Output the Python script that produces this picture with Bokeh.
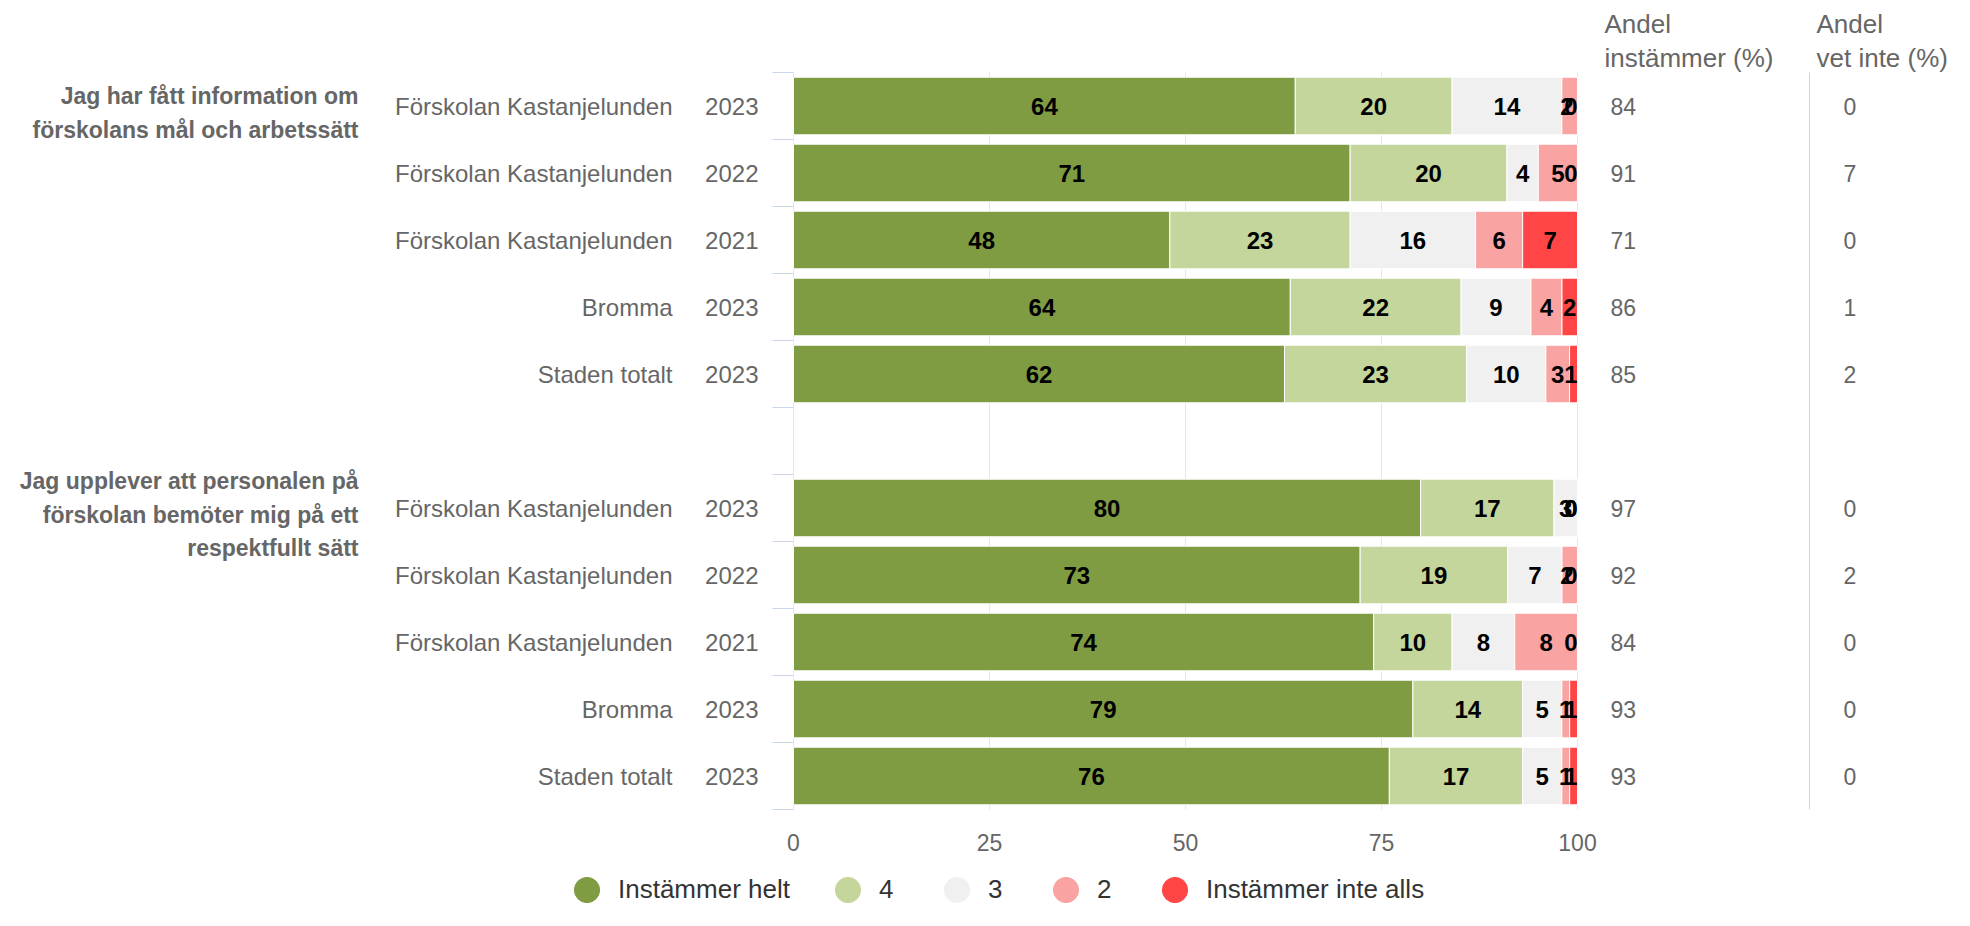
from bokeh.plotting import figure
from bokeh.models import (ColumnDataSource, Range1d, FixedTicker, Legend,
                          LegendItem)
from bokeh.core.properties import value
from bokeh.embed import file_html
from bokeh.resources import INLINE

# ---------------- data ----------------
questions = [
    "Jag har fått information om\nförskolans mål och arbetssätt",
    "Jag upplever att personalen på\nförskolan bemöter mig på ett\nrespektfullt sätt",
]
schools = ["Förskolan Kastanjelunden", "Förskolan Kastanjelunden",
           "Förskolan Kastanjelunden", "Bromma", "Staden totalt"]
years = ["2023", "2022", "2021", "2023", "2023"]

series_names = ["Instämmer helt", "4", "3", "2", "Instämmer inte alls"]
helt = [64, 71, 48, 64, 62, 80, 73, 74, 79, 76]
s4 = [20, 20, 23, 22, 23, 17, 19, 10, 14, 17]
s3 = [14, 4, 16, 9, 10, 3, 7, 8, 5, 5]
s2 = [2, 5, 6, 4, 3, 0, 2, 8, 1, 1]
inte = [0, 0, 7, 2, 1, 0, 0, 0, 1, 1]
andel_instammer = [84, 91, 71, 86, 85, 97, 92, 84, 93, 93]
andel_vet_inte = [0, 7, 0, 1, 2, 0, 2, 0, 0, 0]
headers = ["Andel\ninstämmer (%)", "Andel\nvet inte (%)"]
x_ticks = [0, 25, 50, 75, 100]

colors = ["#7f9c43", "#c4d69b", "#f0f0f0", "#f9a3a3", "#ff4545"]
FONT = "Liberation Sans"
GRAY = "#666666"

# ---------------- layout (pixels) ----------------
W, H = 1954, 910
X0_PX, X100_PX = 793, 1577          # value axis 0 and 100
Y0_PX, ROW_PX = 72, 67              # top of category axis, row pitch
ux = (X100_PX - X0_PX) / 100.0      # px per value unit


def dx(px):
    return (px - X0_PX) / ux


def dy(py):
    return (py - Y0_PX) / ROW_PX


n_rows = len(schools)
ys, row_school, row_year = [], [], []
for g in range(len(questions)):
    for i in range(n_rows):
        ys.append(g * (n_rows + 1) + i + 0.5)
        row_school.append(schools[i])
        row_year.append(years[i])
total_rows = len(questions) * (n_rows + 1) - 1
q_y = [g * (n_rows + 1) + 0.6 for g in range(len(questions))]

series = [helt, s4, s3, s2, inte]
keys = ["helt", "s4", "s3", "s2", "inte"]
totals = [sum(v[k] for v in series) for k in range(len(ys))]
shares = {key: [vals[k] / totals[k] * 100 for k in range(len(ys))]
          for key, vals in zip(keys, series)}
src = ColumnDataSource(dict(y=ys, **shares))

p = figure(width=W, height=H, x_range=Range1d(dx(0), dx(W)),
           y_range=Range1d(dy(H), dy(0)), output_backend="svg",
           toolbar_location=None, title=None,
           min_border_left=0, min_border_right=0,
           min_border_top=0, min_border_bottom=0)
p.outline_line_color = None
p.background_fill_color = "white"
p.border_fill_color = "white"
p.xgrid.grid_line_color = None
p.ygrid.grid_line_color = None

# value axis, drawn at the bottom of the category block
p.xaxis.fixed_location = total_rows
p.xaxis.ticker = FixedTicker(ticks=x_ticks)
p.xaxis.axis_line_color = None
p.xaxis.major_tick_line_color = None
p.xaxis.minor_tick_line_color = None
p.xaxis.major_label_text_font = FONT
p.xaxis.major_label_text_font_size = "23px"
p.xaxis.major_label_text_color = GRAY
p.xaxis.major_label_standoff = 18

# category axis: tick marks between categories
p.yaxis.fixed_location = 0
p.yaxis.ticker = FixedTicker(ticks=list(range(total_rows + 1)))
p.yaxis.major_label_overrides = {i: "" for i in range(total_rows + 1)}
p.yaxis.axis_line_color = None
p.yaxis.major_tick_out = 21
p.yaxis.major_tick_in = 0
p.yaxis.major_tick_line_color = "#ccd6eb"
p.yaxis.minor_tick_line_color = None

# grid lines limited to the category block
p.segment(x0=x_ticks, x1=x_ticks, y0=0, y1=total_rows,
          line_color="#e6e6e6", line_width=1)

# bars
p.hbar_stack(keys, y="y", height=0.86, fill_color=colors, line_color="white",
             line_width=1, source=src)

# data labels (kept inside the plot area at the right edge)
lx, ly, lt = [], [], []
for k in range(len(ys)):
    left = 0.0
    for si, vals in enumerate(series):
        w = vals[k] / totals[k] * 100
        t = str(vals[k])
        pad = 0 if (si == len(series) - 1 or vals[k] == 0) else 4
        lx.append(min(left + w / 2, 100 - (6.7 * len(t) + pad) / ux))
        ly.append(ys[k])
        lt.append(t)
        left += w
p.text(x=lx, y=ly, text=lt, text_font=value(FONT), text_font_size="24px",
       text_font_style="bold", text_color="#000000", text_align="center",
       text_baseline="middle")

# right-hand columns
p.text(x=dx(1610), y=ys, text=[str(v) for v in andel_instammer],
       text_font=value(FONT), text_font_size="23px", text_color=GRAY,
       text_align="left", text_baseline="middle")
p.text(x=dx(1843), y=ys, text=[str(v) for v in andel_vet_inte],
       text_font=value(FONT), text_font_size="23px", text_color=GRAY,
       text_align="left", text_baseline="middle")
p.segment(x0=dx(1809), x1=dx(1809), y0=0, y1=total_rows,
          line_color="#ccd6eb", line_width=1)
p.text(x=[dx(1604), dx(1816)], y=dy(8), text=headers, text_font=value(FONT),
       text_font_size="26px", text_color=GRAY, text_align="left",
       text_baseline="top", text_line_height=1.15)

# left-hand labels
p.text(x=dx(758), y=ys, text=row_year, text_font=value(FONT),
       text_font_size="24px", text_color=GRAY, text_align="right",
       text_baseline="middle")
p.text(x=dx(672), y=ys, text=row_school, text_font=value(FONT),
       text_font_size="24px", text_color=GRAY, text_align="right",
       text_baseline="middle")
p.text(x=dx(358), y=q_y, text=questions, text_font=value(FONT),
       text_font_size="23px", text_font_style="bold", text_color=GRAY,
       text_align="right", text_baseline="middle", text_line_height=1.3)

# legend (dummy renderers that draw nothing in the plot)
nan = float("nan")
dummies = [p.scatter(x=[nan], y=[nan], marker="circle", size=25,
                     fill_color=c, line_color=c) for c in colors]
legend = Legend(items=[LegendItem(label=n, renderers=[r])
                       for n, r in zip(series_names, dummies)],
                orientation="horizontal", location=(555, -11),
                glyph_width=63, glyph_height=63, label_standoff=0,
                spacing=26, padding=0, margin=0, border_line_color=None,
                background_fill_alpha=0, label_text_font=FONT,
                label_text_font_size="26px", label_text_color="#333333")
p.add_layout(legend)

open("out.html", "w").write(file_html(p, INLINE))
